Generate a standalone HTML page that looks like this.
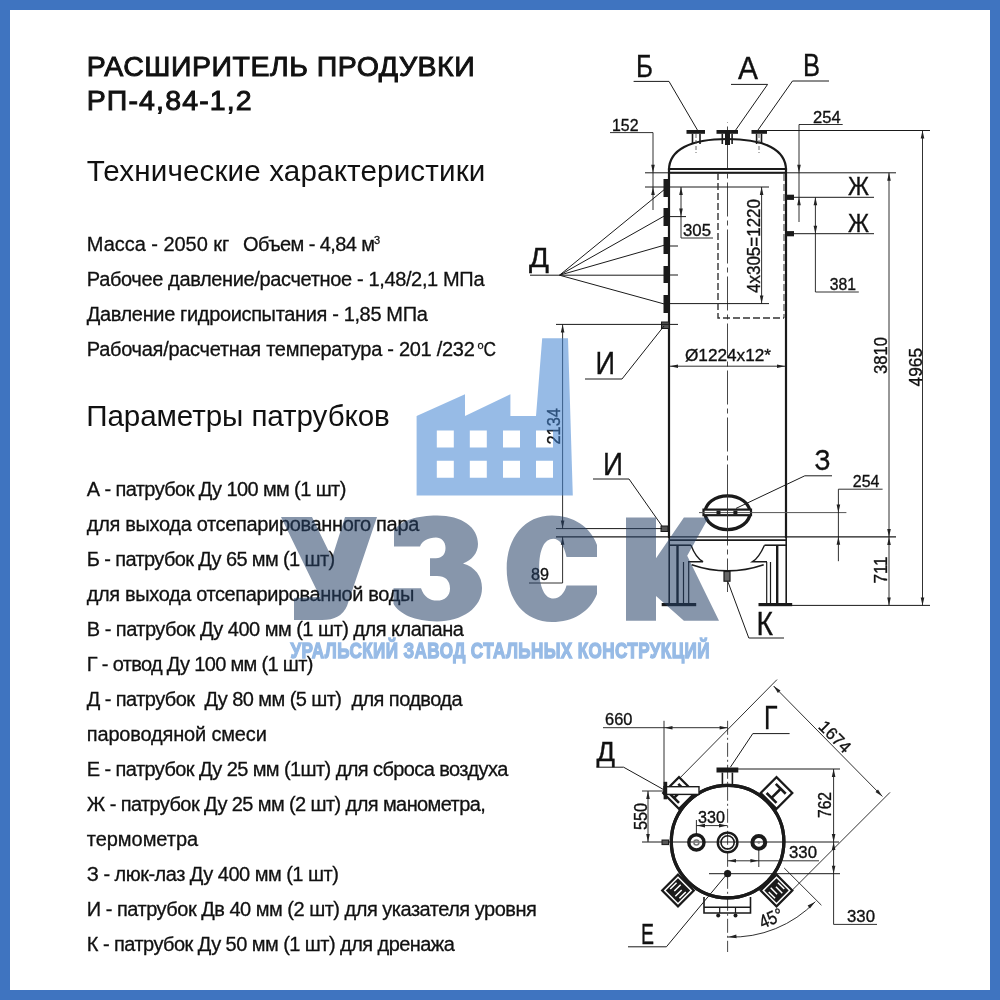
<!DOCTYPE html>
<html><head><meta charset="utf-8">
<style>
html,body{margin:0;padding:0;background:#fff;}
#page{position:relative;width:1000px;height:1000px;overflow:hidden;background:#fff;font-family:"Liberation Sans",sans-serif;}
#frame{position:absolute;left:0;top:0;width:1000px;height:1000px;box-sizing:border-box;border:10px solid #3F74C0;}
svg{position:absolute;left:0;top:0;will-change:transform;}

</style></head><body>
<div id="page">
<svg id="txt" width="1000" height="1000" viewBox="0 0 1000 1000" font-family="Liberation Sans">
<g fill="#111">
<text x="86.7" y="76" font-size="28.5" stroke="#111" stroke-width="0.95" textLength="388" lengthAdjust="spacing">РАСШИРИТЕЛЬ ПРОДУВКИ</text>
<text x="86.7" y="110.4" font-size="28.5" stroke="#111" stroke-width="0.95" textLength="165" lengthAdjust="spacing">РП-4,84-1,2</text>
<text x="86.8" y="180.6" font-size="29.6" textLength="398.5" lengthAdjust="spacing">Технические характеристики</text>
<g font-size="20" stroke="#111" stroke-width="0.3">
<text x="86.8" y="251" textLength="142.5" lengthAdjust="spacing">Масса - 2050 кг</text>
<text x="243" y="251" textLength="132.0" lengthAdjust="spacing">Объем - 4,84 м</text><text x="374" y="243.5" font-size="11">3</text>
<text x="86.8" y="286" textLength="397.7" lengthAdjust="spacing">Рабочее давление/расчетное - 1,48/2,1 МПа</text>
<text x="86.8" y="321" textLength="341.0" lengthAdjust="spacing">Давление гидроиспытания - 1,85 МПа</text>
<text x="86.8" y="356" textLength="388.0" lengthAdjust="spacing">Рабочая/расчетная температура - 201 /232</text><text x="477.5" y="348.5" font-size="11">o</text><text x="483.5" y="356" textLength="12.5" lengthAdjust="spacingAndGlyphs">C</text>
</g>
<text x="86.3" y="426" font-size="29.6" textLength="303.5" lengthAdjust="spacing">Параметры патрубков</text>
<g font-size="20" stroke="#111" stroke-width="0.3">
<text x="86.8" y="495.5" textLength="259.5" lengthAdjust="spacing">А - патрубок Ду 100 мм (1 шт)</text>
<text x="86.8" y="530.5" textLength="332.5" lengthAdjust="spacing">для выхода отсепарированного пара</text>
<text x="86.8" y="565.5" textLength="248.3" lengthAdjust="spacing">Б - патрубок Ду 65 мм (1 шт)</text>
<text x="86.8" y="600.5" textLength="327.5" lengthAdjust="spacing">для выхода отсепарированной воды</text>
<text x="86.8" y="635.5" textLength="377.0" lengthAdjust="spacing">В - патрубок Ду 400 мм (1 шт) для клапана</text>
<text x="86.8" y="670.5" textLength="226.5" lengthAdjust="spacing">Г - отвод Ду 100 мм (1 шт)</text>
<text x="86.8" y="705.5" textLength="375.7" lengthAdjust="spacing" xml:space="preserve">Д - патрубок  Ду 80 мм (5 шт)  для подвода</text>
<text x="86.8" y="740.5" textLength="180.0" lengthAdjust="spacing">пароводяной смеси</text>
<text x="86.8" y="775.5" textLength="421.5" lengthAdjust="spacing">Е - патрубок Ду 25 мм (1шт) для сброса воздуха</text>
<text x="86.8" y="810.5" textLength="399.0" lengthAdjust="spacing">Ж - патрубок Ду 25 мм (2 шт) для манометра,</text>
<text x="86.8" y="845.5" textLength="111.3" lengthAdjust="spacing">термометра</text>
<text x="86.8" y="880.5" textLength="252.0" lengthAdjust="spacing">З - люк-лаз Ду 400 мм (1 шт)</text>
<text x="86.8" y="915.5" textLength="450.0" lengthAdjust="spacing">И - патрубок Дв 40 мм (2 шт) для указателя уровня</text>
<text x="86.8" y="950.5" textLength="368.0" lengthAdjust="spacing">К - патрубок Ду 50 мм (1 шт) для дренажа</text>
</g>
</g>
</svg>
<svg id="drw" width="1000" height="1000" viewBox="0 0 1000 1000" font-family="Liberation Sans">
<line x1="727.5" y1="122" x2="727.5" y2="592" stroke="#333" stroke-width="0.9" stroke-dasharray="34,4,5,4" stroke-dashoffset="33.5"/>
<path d="M669,170 C669,150 690,139 727.5,139 C765,139 786,150 786,170" stroke="#1a1a1a" stroke-width="2.2" fill="none"/>
<line x1="669" y1="169" x2="786" y2="169" stroke="#1a1a1a" stroke-width="2.2"/>
<line x1="645" y1="172.8" x2="896" y2="172.8" stroke="#1a1a1a" stroke-width="1.0"/>
<line x1="669" y1="172.8" x2="786" y2="172.8" stroke="#1a1a1a" stroke-width="2.0"/>
<line x1="669" y1="168" x2="669" y2="538" stroke="#1a1a1a" stroke-width="2.2"/>
<line x1="786" y1="168" x2="786" y2="538" stroke="#1a1a1a" stroke-width="2.2"/>
<rect x="686.5" y="130" width="18.5" height="3.8" fill="#1a1a1a"/>
<line x1="692.5" y1="133.7" x2="692.5" y2="144" stroke="#1a1a1a" stroke-width="1.6"/>
<line x1="700" y1="133.7" x2="700" y2="144" stroke="#1a1a1a" stroke-width="1.6"/>
<rect x="716.5" y="130" width="21.5" height="3.8" fill="#1a1a1a"/>
<line x1="722.3" y1="133.7" x2="722.3" y2="144" stroke="#1a1a1a" stroke-width="1.6"/>
<line x1="732.1" y1="133.7" x2="732.1" y2="144" stroke="#1a1a1a" stroke-width="1.6"/>
<rect x="751.5" y="130" width="15.5" height="3.8" fill="#1a1a1a"/>
<line x1="756.6" y1="133.7" x2="756.6" y2="144" stroke="#1a1a1a" stroke-width="1.6"/>
<line x1="761.5" y1="133.7" x2="761.5" y2="144" stroke="#1a1a1a" stroke-width="1.6"/>
<rect x="725" y="133" width="5" height="12" fill="#1a1a1a"/>
<line x1="696" y1="134" x2="696" y2="153" stroke="#444" stroke-width="0.8" stroke-dasharray="4,2"/>
<line x1="759" y1="134" x2="759" y2="153" stroke="#444" stroke-width="0.8" stroke-dasharray="4,2"/>
<line x1="767" y1="130.5" x2="930" y2="130.5" stroke="#1a1a1a" stroke-width="1.0"/>
<text x="636" y="77" font-size="32" font-family="Liberation Sans" font-weight="normal" fill="#111" text-anchor="start" textLength="17" lengthAdjust="spacingAndGlyphs" stroke="#111" stroke-width="0.35">Б</text>
<text x="738" y="79" font-size="32" font-family="Liberation Sans" font-weight="normal" fill="#111" text-anchor="start" textLength="20" lengthAdjust="spacingAndGlyphs" stroke="#111" stroke-width="0.35">А</text>
<text x="803" y="76" font-size="32" font-family="Liberation Sans" font-weight="normal" fill="#111" text-anchor="start" textLength="17" lengthAdjust="spacingAndGlyphs" stroke="#111" stroke-width="0.35">В</text>
<path d="M633.6,81.4 L669,81.4 L698,131" stroke="#1a1a1a" stroke-width="1.0" fill="none"/>
<path d="M731,84.4 L767.6,84.4 L735,131" stroke="#1a1a1a" stroke-width="1.0" fill="none"/>
<path d="M829,81 L792.5,81 L758,130" stroke="#1a1a1a" stroke-width="1.0" fill="none"/>
<text x="612" y="130.5" font-size="17" font-family="Liberation Sans" font-weight="normal" fill="#111" text-anchor="start" textLength="26.5" lengthAdjust="spacingAndGlyphs" stroke="#111" stroke-width="0.35">152</text>
<path d="M610,132.6 L653,132.6 L653,210" stroke="#1a1a1a" stroke-width="0.9" fill="none"/>
<polygon points="653.0,172.8 651.2,164.8 654.8,164.8" fill="#222"/>
<polygon points="653.0,187.0 654.8,195.0 651.2,195.0" fill="#222"/>
<line x1="645" y1="187" x2="769" y2="187" stroke="#1a1a1a" stroke-width="1.0"/>
<rect x="663.5" y="179" width="5.5" height="18" fill="#1a1a1a"/>
<rect x="663.5" y="208" width="5.5" height="18" fill="#1a1a1a"/>
<rect x="663.5" y="237" width="5.5" height="17" fill="#1a1a1a"/>
<rect x="663.5" y="266" width="5.5" height="17" fill="#1a1a1a"/>
<rect x="663.5" y="295" width="5.5" height="18" fill="#1a1a1a"/>
<rect x="661.5" y="322" width="7.5" height="6.5" fill="#555" stroke="#1a1a1a" stroke-width="1"/>
<line x1="669" y1="216.6" x2="686" y2="216.6" stroke="#1a1a1a" stroke-width="1.0"/>
<line x1="669" y1="246" x2="678" y2="246" stroke="#1a1a1a" stroke-width="1.0"/>
<line x1="669" y1="275" x2="678" y2="275" stroke="#1a1a1a" stroke-width="1.0"/>
<line x1="669" y1="303.6" x2="769" y2="303.6" stroke="#1a1a1a" stroke-width="1.0"/>
<line x1="556" y1="324.4" x2="678" y2="324.4" stroke="#1a1a1a" stroke-width="1.0"/>
<line x1="530" y1="275.2" x2="559.5" y2="275.2" stroke="#1a1a1a" stroke-width="1.0"/>
<line x1="559.5" y1="275.2" x2="665" y2="189" stroke="#1a1a1a" stroke-width="1.0"/>
<line x1="559.5" y1="275.2" x2="664.3" y2="216" stroke="#1a1a1a" stroke-width="1.0"/>
<line x1="559.5" y1="275.2" x2="665" y2="245" stroke="#1a1a1a" stroke-width="1.0"/>
<line x1="559.5" y1="275.2" x2="665" y2="275.2" stroke="#1a1a1a" stroke-width="1.0"/>
<line x1="559.5" y1="275.2" x2="664.3" y2="304" stroke="#1a1a1a" stroke-width="1.0"/>
<text x="529" y="266.8" font-size="27.5" font-family="Liberation Sans" font-weight="normal" fill="#111" text-anchor="start" textLength="20" lengthAdjust="spacingAndGlyphs" stroke="#111" stroke-width="0.35">Д</text>
<path d="M681,187 L681,238 L713,238" stroke="#1a1a1a" stroke-width="0.9" fill="none"/>
<polygon points="681.0,187.0 682.8,195.0 679.2,195.0" fill="#222"/>
<polygon points="681.0,216.6 679.2,208.6 682.8,208.6" fill="#222"/>
<text x="683" y="236" font-size="17" font-family="Liberation Sans" font-weight="normal" fill="#111" text-anchor="start" textLength="28" lengthAdjust="spacingAndGlyphs" stroke="#111" stroke-width="0.35">305</text>
<text x="760" y="293" font-size="17.5" font-family="Liberation Sans" font-weight="normal" fill="#111" text-anchor="start" textLength="94" lengthAdjust="spacingAndGlyphs" transform="rotate(-90 760 293)" stroke="#111" stroke-width="0.35">4x305=1220</text>
<line x1="761.6" y1="187" x2="761.6" y2="303.6" stroke="#1a1a1a" stroke-width="0.9"/>
<polygon points="761.6,187.0 763.4,195.0 759.8,195.0" fill="#222"/>
<polygon points="761.6,303.6 759.8,295.6 763.4,295.6" fill="#222"/>
<path d="M718,173 L718,318 L784,318" stroke="#333" stroke-width="1.4" fill="none" stroke-dasharray="7,3"/>
<line x1="784" y1="174" x2="784" y2="318" stroke="#333" stroke-width="1.0" stroke-dasharray="7,3"/>
<rect x="786" y="194.70000000000002" width="8" height="5.2" fill="#1a1a1a"/>
<line x1="794" y1="197.3" x2="874" y2="197.3" stroke="#1a1a1a" stroke-width="1.0"/>
<rect x="786" y="231.1" width="8" height="5.2" fill="#1a1a1a"/>
<line x1="794" y1="233.7" x2="874" y2="233.7" stroke="#1a1a1a" stroke-width="1.0"/>
<text x="848" y="195" font-size="26" font-family="Liberation Sans" font-weight="normal" fill="#111" text-anchor="start" textLength="21" lengthAdjust="spacingAndGlyphs" stroke="#111" stroke-width="0.35">Ж</text>
<text x="848" y="231.6" font-size="26" font-family="Liberation Sans" font-weight="normal" fill="#111" text-anchor="start" textLength="21" lengthAdjust="spacingAndGlyphs" stroke="#111" stroke-width="0.35">Ж</text>
<text x="813" y="122.7" font-size="17" font-family="Liberation Sans" font-weight="normal" fill="#111" text-anchor="start" textLength="27.6" lengthAdjust="spacingAndGlyphs" stroke="#111" stroke-width="0.35">254</text>
<path d="M842.7,124.5 L799,124.5 L799,222" stroke="#1a1a1a" stroke-width="0.9" fill="none"/>
<polygon points="799.0,172.8 797.2,164.8 800.8,164.8" fill="#222"/>
<polygon points="799.0,197.3 800.8,205.3 797.2,205.3" fill="#222"/>
<path d="M815.4,197.3 L815.4,292 L858.8,292" stroke="#1a1a1a" stroke-width="0.9" fill="none"/>
<polygon points="815.4,197.3 817.2,205.3 813.6,205.3" fill="#222"/>
<polygon points="815.4,233.7 813.6,225.7 817.2,225.7" fill="#222"/>
<text x="829.7" y="290" font-size="17" font-family="Liberation Sans" font-weight="normal" fill="#111" text-anchor="start" textLength="26.3" lengthAdjust="spacingAndGlyphs" stroke="#111" stroke-width="0.35">381</text>
<line x1="922.5" y1="130.5" x2="922.5" y2="605.4" stroke="#1a1a1a" stroke-width="0.9"/>
<polygon points="922.5,130.5 924.3,138.5 920.7,138.5" fill="#222"/>
<polygon points="922.5,605.4 920.7,597.4 924.3,597.4" fill="#222"/>
<text x="921.6" y="386.4" font-size="17.5" font-family="Liberation Sans" font-weight="normal" fill="#111" text-anchor="start" textLength="38.4" lengthAdjust="spacingAndGlyphs" transform="rotate(-90 921.6 386.4)" stroke="#111" stroke-width="0.35">4965</text>
<line x1="889" y1="172.8" x2="889" y2="537" stroke="#1a1a1a" stroke-width="0.9"/>
<polygon points="889.0,172.8 890.8,180.8 887.2,180.8" fill="#222"/>
<polygon points="889.0,537.0 887.2,529.0 890.8,529.0" fill="#222"/>
<text x="887" y="374" font-size="17.5" font-family="Liberation Sans" font-weight="normal" fill="#111" text-anchor="start" textLength="37" lengthAdjust="spacingAndGlyphs" transform="rotate(-90 887 374)" stroke="#111" stroke-width="0.35">3810</text>
<line x1="889" y1="537" x2="889" y2="605.4" stroke="#1a1a1a" stroke-width="0.9"/>
<polygon points="889.0,537.0 890.8,545.0 887.2,545.0" fill="#222"/>
<polygon points="889.0,605.4 887.2,597.4 890.8,597.4" fill="#222"/>
<text x="887" y="583.6" font-size="17.5" font-family="Liberation Sans" font-weight="normal" fill="#111" text-anchor="start" textLength="27.2" lengthAdjust="spacingAndGlyphs" transform="rotate(-90 887 583.6)" stroke="#111" stroke-width="0.35">711</text>
<line x1="556" y1="536.8" x2="896" y2="536.8" stroke="#1a1a1a" stroke-width="1.2"/>
<line x1="669" y1="540.2" x2="787" y2="540.2" stroke="#1a1a1a" stroke-width="1.8"/>
<line x1="792" y1="605.4" x2="930" y2="605.4" stroke="#1a1a1a" stroke-width="1.0"/>
<text x="685" y="361.4" font-size="17" font-family="Liberation Sans" font-weight="normal" fill="#111" text-anchor="start" textLength="86" lengthAdjust="spacingAndGlyphs" stroke="#111" stroke-width="0.35">&#216;1224x12*</text>
<line x1="669" y1="366.2" x2="786" y2="366.2" stroke="#1a1a1a" stroke-width="0.9"/>
<polygon points="670.0,366.2 678.0,364.4 678.0,368.0" fill="#222"/>
<polygon points="785.0,366.2 777.0,368.0 777.0,364.4" fill="#222"/>
<text x="595.5" y="374" font-size="31" font-family="Liberation Sans" font-weight="normal" fill="#111" text-anchor="start" textLength="19.5" lengthAdjust="spacingAndGlyphs" stroke="#111" stroke-width="0.35">И</text>
<path d="M585,379 L622,379 L664,326" stroke="#1a1a1a" stroke-width="1.0" fill="none"/>
<line x1="562.6" y1="324.4" x2="562.6" y2="528.6" stroke="#1a1a1a" stroke-width="0.9"/>
<polygon points="562.6,324.4 564.4,332.4 560.8,332.4" fill="#222"/>
<polygon points="562.6,528.6 560.8,520.6 564.4,520.6" fill="#222"/>
<text x="560.5" y="444.6" font-size="17.5" font-family="Liberation Sans" font-weight="normal" fill="#111" text-anchor="start" textLength="36.6" lengthAdjust="spacingAndGlyphs" transform="rotate(-90 560.5 444.6)" stroke="#111" stroke-width="0.35">2134</text>
<text x="603" y="475" font-size="31" font-family="Liberation Sans" font-weight="normal" fill="#111" text-anchor="start" textLength="20" lengthAdjust="spacingAndGlyphs" stroke="#111" stroke-width="0.35">И</text>
<path d="M593,479 L629,479 L662,526" stroke="#1a1a1a" stroke-width="1.0" fill="none"/>
<rect x="661" y="526" width="7" height="5.5" fill="#555" stroke="#1a1a1a" stroke-width="1"/>
<line x1="556" y1="528.6" x2="662" y2="528.6" stroke="#1a1a1a" stroke-width="1.0"/>
<path d="M562.6,536.8 L562.6,583 L529,583" stroke="#1a1a1a" stroke-width="0.9" fill="none"/>
<polygon points="562.6,536.8 564.4,544.8 560.8,544.8" fill="#222"/>
<text x="531" y="580" font-size="17" font-family="Liberation Sans" font-weight="normal" fill="#111" text-anchor="start" textLength="18" lengthAdjust="spacingAndGlyphs" stroke="#111" stroke-width="0.35">89</text>
<ellipse cx="727.5" cy="512.7" rx="22.4" ry="16.9" fill="#fff" stroke="#1a1a1a" stroke-width="3.3"/>
<rect x="703.5" y="509.6" width="47.5" height="5.6" fill="#fff" stroke="#1a1a1a" stroke-width="2.2"/>
<line x1="699" y1="512.6" x2="846.4" y2="512.6" stroke="#555" stroke-width="1.0"/>
<rect x="716.5" y="510.6" width="4" height="3.8" fill="#1a1a1a"/>
<rect x="733.4" y="510.6" width="4" height="3.8" fill="#1a1a1a"/>
<line x1="727.5" y1="495" x2="727.5" y2="531" stroke="#333" stroke-width="0.9"/>
<text x="814.4" y="470" font-size="30" font-family="Liberation Sans" font-weight="normal" fill="#111" text-anchor="start" textLength="16" lengthAdjust="spacingAndGlyphs" stroke="#111" stroke-width="0.35">З</text>
<path d="M832,475.8 L804.8,475.8 L736,508.4" stroke="#1a1a1a" stroke-width="1.0" fill="none"/>
<text x="852.8" y="487" font-size="17" font-family="Liberation Sans" font-weight="normal" fill="#111" text-anchor="start" textLength="26.6" lengthAdjust="spacingAndGlyphs" stroke="#111" stroke-width="0.35">254</text>
<path d="M882.6,489.2 L838.4,489.2 L838.4,561.2" stroke="#1a1a1a" stroke-width="0.9" fill="none"/>
<polygon points="838.4,512.6 836.6,504.6 840.2,504.6" fill="#222"/>
<polygon points="838.4,536.8 840.2,544.8 836.6,544.8" fill="#222"/>
<line x1="669.2" y1="537" x2="669.2" y2="604" stroke="#1a1a1a" stroke-width="1.6"/>
<line x1="677.5" y1="545" x2="677.5" y2="604" stroke="#1a1a1a" stroke-width="2.4"/>
<line x1="683.5" y1="562" x2="683.5" y2="604" stroke="#1a1a1a" stroke-width="1.2"/>
<line x1="688.7" y1="562" x2="688.7" y2="604" stroke="#1a1a1a" stroke-width="1.2"/>
<rect x="661.7" y="603" width="34.5" height="3.2" fill="#1a1a1a"/>
<line x1="786.2" y1="537" x2="786.2" y2="604" stroke="#1a1a1a" stroke-width="1.6"/>
<line x1="777.2" y1="545" x2="777.2" y2="604" stroke="#1a1a1a" stroke-width="2.4"/>
<line x1="770.5" y1="562" x2="770.5" y2="604" stroke="#1a1a1a" stroke-width="1.2"/>
<line x1="766.7" y1="562" x2="766.7" y2="604" stroke="#1a1a1a" stroke-width="1.2"/>
<rect x="758.5" y="603" width="33.700000000000045" height="3.2" fill="#1a1a1a"/>
<line x1="669" y1="545.2" x2="691" y2="545.2" stroke="#1a1a1a" stroke-width="1.6"/>
<line x1="764.5" y1="545.2" x2="786" y2="545.2" stroke="#1a1a1a" stroke-width="1.6"/>
<path d="M691,545.2 C694,553 698,559 703,561.7 L688,561.7" stroke="#1a1a1a" stroke-width="1.4" fill="none"/>
<path d="M764.5,545.2 C761,553 757,559 752.5,561.7 L767,561.7" stroke="#1a1a1a" stroke-width="1.4" fill="none"/>
<path d="M691.7,564.7 Q727.5,577 763.7,564.7" stroke="#1a1a1a" stroke-width="1.6" fill="none"/>
<rect x="724" y="571.5" width="6" height="9.7" fill="#666" stroke="#1a1a1a" stroke-width="1.2"/>
<path d="M728,582 L748.8,638 L784,638" stroke="#1a1a1a" stroke-width="1.0" fill="none"/>
<text x="756.5" y="634.8" font-size="32.5" font-family="Liberation Sans" font-weight="normal" fill="#111" text-anchor="start" textLength="16.5" lengthAdjust="spacingAndGlyphs" stroke="#111" stroke-width="0.35">К</text>
<line x1="727.6" y1="720.8" x2="727.6" y2="952" stroke="#333" stroke-width="0.9" stroke-dasharray="14,3,2,3"/>
<line x1="642" y1="842" x2="839" y2="842" stroke="#1a1a1a" stroke-width="1.0"/>
<line x1="709" y1="873.7" x2="840" y2="873.7" stroke="#1a1a1a" stroke-width="1.0"/>
<circle cx="727.6" cy="841.6" r="56.3" fill="none" stroke="#1a1a1a" stroke-width="3.2"/>
<circle cx="727.6" cy="842.4" r="9.8" fill="none" stroke="#1a1a1a" stroke-width="2.4"/>
<circle cx="727.6" cy="842.4" r="6.6" fill="none" stroke="#1a1a1a" stroke-width="1.6"/>
<circle cx="696.4" cy="842.4" r="7.6" fill="none" stroke="#1a1a1a" stroke-width="3.4"/>
<circle cx="696.4" cy="842.4" r="2.5" fill="none" stroke="#777" stroke-width="1.5"/>
<circle cx="758.8" cy="842.4" r="6.4" fill="none" stroke="#1a1a1a" stroke-width="4"/>
<circle cx="758.8" cy="842.4" r="1.3" fill="#777"/>
<circle cx="727.6" cy="873.7" r="3.6" fill="#1a1a1a"/>
<rect x="716.5" y="767.5" width="21.8" height="5" fill="#1a1a1a"/>
<line x1="722.4" y1="772.5" x2="722.4" y2="785" stroke="#1a1a1a" stroke-width="1.6"/>
<line x1="732.4" y1="772.5" x2="732.4" y2="785" stroke="#1a1a1a" stroke-width="1.6"/>
<text x="764" y="729" font-size="33" font-family="Liberation Sans" font-weight="normal" fill="#111" text-anchor="start" textLength="13.5" lengthAdjust="spacingAndGlyphs" stroke="#111" stroke-width="0.35">Г</text>
<path d="M789.6,733.6 L752.8,733.6 L730.4,767.2" stroke="#1a1a1a" stroke-width="1.0" fill="none"/>
<line x1="738" y1="769" x2="840" y2="769" stroke="#1a1a1a" stroke-width="1.0"/>
<line x1="833.6" y1="769" x2="833.6" y2="924.4" stroke="#1a1a1a" stroke-width="0.9"/>
<polygon points="833.6,769.0 835.4,777.0 831.8,777.0" fill="#222"/>
<polygon points="833.6,842.0 831.8,834.0 835.4,834.0" fill="#222"/>
<polygon points="833.6,842.0 835.4,850.0 831.8,850.0" fill="#222"/>
<polygon points="833.6,873.7 831.8,865.7 835.4,865.7" fill="#222"/>
<line x1="833.6" y1="924.4" x2="877" y2="924.4" stroke="#1a1a1a" stroke-width="0.9"/>
<text x="831" y="818" font-size="17.5" font-family="Liberation Sans" font-weight="normal" fill="#111" text-anchor="start" textLength="26" lengthAdjust="spacingAndGlyphs" transform="rotate(-90 831 818)" stroke="#111" stroke-width="0.35">762</text>
<text x="847" y="921.6" font-size="17" font-family="Liberation Sans" font-weight="normal" fill="#111" text-anchor="start" textLength="28" lengthAdjust="spacingAndGlyphs" stroke="#111" stroke-width="0.35">330</text>
<line x1="603" y1="727.7" x2="727.6" y2="727.7" stroke="#1a1a1a" stroke-width="0.9"/>
<polygon points="664.5,727.7 672.5,725.9 672.5,729.5" fill="#222"/>
<polygon points="727.6,727.7 719.6,729.5 719.6,725.9" fill="#222"/>
<line x1="664" y1="720.8" x2="664" y2="790" stroke="#1a1a1a" stroke-width="0.9"/>
<text x="605" y="725.3" font-size="17" font-family="Liberation Sans" font-weight="normal" fill="#111" text-anchor="start" textLength="27.4" lengthAdjust="spacingAndGlyphs" stroke="#111" stroke-width="0.35">660</text>
<text x="596.4" y="760.5" font-size="27" font-family="Liberation Sans" font-weight="normal" fill="#111" text-anchor="start" textLength="18.5" lengthAdjust="spacingAndGlyphs" stroke="#111" stroke-width="0.35">Д</text>
<path d="M596.4,767.2 L623.6,767.2 L663.6,789.6" stroke="#1a1a1a" stroke-width="1.0" fill="none"/>
<line x1="642" y1="791" x2="690" y2="791" stroke="#1a1a1a" stroke-width="0.9"/>
<line x1="648" y1="791" x2="648" y2="842" stroke="#1a1a1a" stroke-width="0.9"/>
<polygon points="648.0,791.0 649.8,799.0 646.2,799.0" fill="#222"/>
<polygon points="648.0,842.0 646.2,834.0 649.8,834.0" fill="#222"/>
<text x="647.2" y="830" font-size="17.5" font-family="Liberation Sans" font-weight="normal" fill="#111" text-anchor="start" textLength="27.2" lengthAdjust="spacingAndGlyphs" transform="rotate(-90 647.2 830)" stroke="#111" stroke-width="0.35">550</text>
<line x1="671.6" y1="786.4" x2="777" y2="679.6" stroke="#1a1a1a" stroke-width="0.9"/>
<line x1="890" y1="792.4" x2="785" y2="897.4" stroke="#1a1a1a" stroke-width="0.9"/>
<line x1="773.6" y1="686" x2="882.4" y2="796.4" stroke="#1a1a1a" stroke-width="0.9"/>
<polygon points="773.6,686.0 780.5,690.4 777.9,693.0" fill="#222"/>
<polygon points="882.4,796.4 875.5,792.0 878.0,789.5" fill="#222"/>
<text x="817.5" y="727.5" font-size="17" font-family="Liberation Sans" font-weight="normal" fill="#111" text-anchor="start" textLength="37.5" lengthAdjust="spacingAndGlyphs" transform="rotate(45 817.5 727.5)" stroke="#111" stroke-width="0.35">1674</text>
<g transform="translate(776.5 793) rotate(45)">
<rect x="-11.2" y="-11.2" width="22.4" height="22.4" fill="#fff" stroke="#1a1a1a" stroke-width="2.2"/>
<path d="M-7,-6 L7,-6 M0,-6 L0,7 M-7,7 L7,7" stroke="#1a1a1a" stroke-width="2.6" fill="none"/>
</g>
<g transform="translate(679 793) rotate(45)">
<rect x="-11.2" y="-11.2" width="22.4" height="22.4" fill="#fff" stroke="#1a1a1a" stroke-width="2.2"/>
<path d="M-7,-6 L7,-6 M0,-6 L0,7 M-7,7 L7,7" stroke="#1a1a1a" stroke-width="2.6" fill="none"/>
</g>
<g transform="translate(678 890.5) rotate(45)">
<rect x="-11.2" y="-11.2" width="22.4" height="22.4" fill="#fff" stroke="#1a1a1a" stroke-width="2.2"/>
<rect x="-8.6" y="-8.6" width="17.2" height="17.2" fill="#1a1a1a"/>
<path d="M-6.5,-4.5 L-6.5,4.5 M-2.2,-6 L-2.2,3 M2.2,-3 L2.2,6 M6.5,-4.5 L6.5,4.5" stroke="#fff" stroke-width="1.5" fill="none"/>
</g>
<g transform="translate(776.5 890.5) rotate(45)">
<rect x="-11.2" y="-11.2" width="22.4" height="22.4" fill="#fff" stroke="#1a1a1a" stroke-width="2.2"/>
<rect x="-8.6" y="-8.6" width="17.2" height="17.2" fill="#1a1a1a"/>
<path d="M-6.5,-4.5 L-6.5,4.5 M-2.2,-6 L-2.2,3 M2.2,-3 L2.2,6 M6.5,-4.5 L6.5,4.5" stroke="#fff" stroke-width="1.5" fill="none" transform="rotate(90)"/>
</g>
<circle cx="727.6" cy="841.6" r="56.3" fill="none" stroke="#1a1a1a" stroke-width="3.2"/>
<rect x="664" y="786.7" width="35" height="7.7" fill="#fff" stroke="#1a1a1a" stroke-width="1.4"/>
<rect x="663.6" y="781.8" width="3.6" height="17.5" fill="#1a1a1a"/>
<rect x="662" y="840" width="6.5" height="4.6" fill="#555" stroke="#1a1a1a" stroke-width="1"/>
<path d="M704,897 L704,913 L750.5,913 L750.5,897" stroke="#1a1a1a" stroke-width="1.6" fill="none"/>
<line x1="704" y1="907.2" x2="750.5" y2="907.2" stroke="#1a1a1a" stroke-width="1.6"/>
<line x1="719.7" y1="907" x2="719.7" y2="913" stroke="#1a1a1a" stroke-width="1.2"/>
<line x1="735.5" y1="907" x2="735.5" y2="913" stroke="#1a1a1a" stroke-width="1.2"/>
<circle cx="718.2" cy="915.5" r="2" fill="#1a1a1a"/>
<circle cx="735.5" cy="915.5" r="2" fill="#1a1a1a"/>
<text x="641" y="943.6" font-size="30" font-family="Liberation Sans" font-weight="normal" fill="#111" text-anchor="start" textLength="13" lengthAdjust="spacingAndGlyphs" stroke="#111" stroke-width="0.35">Е</text>
<path d="M628,946.8 L666.4,946.8 L727,874" stroke="#1a1a1a" stroke-width="1.0" fill="none"/>
<line x1="696.4" y1="820" x2="696.4" y2="836" stroke="#1a1a1a" stroke-width="0.9"/>
<line x1="696.4" y1="825.6" x2="727.6" y2="825.6" stroke="#1a1a1a" stroke-width="0.9"/>
<polygon points="697.0,825.6 705.0,823.8 705.0,827.4" fill="#222"/>
<polygon points="727.0,825.6 719.0,827.4 719.0,823.8" fill="#222"/>
<text x="698" y="823.2" font-size="17" font-family="Liberation Sans" font-weight="normal" fill="#111" text-anchor="start" textLength="27" lengthAdjust="spacingAndGlyphs" stroke="#111" stroke-width="0.35">330</text>
<line x1="758.8" y1="850" x2="758.8" y2="867" stroke="#1a1a1a" stroke-width="0.9"/>
<line x1="727.6" y1="860.8" x2="819" y2="860.8" stroke="#1a1a1a" stroke-width="0.9"/>
<polygon points="728.0,860.8 736.0,859.0 736.0,862.6" fill="#222"/>
<polygon points="758.4,860.8 750.4,862.6 750.4,859.0" fill="#222"/>
<text x="789" y="857.6" font-size="17" font-family="Liberation Sans" font-weight="normal" fill="#111" text-anchor="start" textLength="28" lengthAdjust="spacingAndGlyphs" stroke="#111" stroke-width="0.35">330</text>
<line x1="784.2" y1="868" x2="821.4" y2="905.2" stroke="#1a1a1a" stroke-width="0.9"/>
<path d="M728,937 A115,115 0 0 0 815.4,901.6" stroke="#1a1a1a" stroke-width="0.9" fill="none"/>
<polygon points="728.5,937.0 736.3,934.6 736.6,938.2" fill="#222"/>
<polygon points="815.0,902.0 809.9,908.4 807.6,905.6" fill="#222"/>
<text x="762.5" y="929" font-size="19" font-family="Liberation Sans" font-weight="normal" fill="#111" text-anchor="start" textLength="24" lengthAdjust="spacingAndGlyphs" transform="rotate(-23 762.5 929)" stroke="#111" stroke-width="0.35">45°</text>
</svg>
<svg id="wm" width="1000" height="1000" viewBox="0 0 1000 1000">
<path fill="rgb(66,131,209)" fill-opacity="0.55" fill-rule="evenodd" d="M416.6,495.4 L416.6,416 L465,394.2 L465,416 L510.4,394.2 L510.4,416 L536,416 L542.2,338.2 L568,338.2 L572.8,495.4 Z
M436.8,430.4 h17 v17 h-17 Z M469.8,430.4 h17 v17 h-17 Z M503,430.4 h17 v17 h-17 Z M536,430.4 h17 v17 h-17 Z
M436.8,460.8 h17 v17 h-17 Z M469.8,460.8 h17 v17 h-17 Z M503,460.8 h17 v17 h-17 Z M536,460.8 h17 v17 h-17 Z"/>
<g fill="rgb(37,64,102)" fill-opacity="0.55">
<path d="M281,517 L312,517 L332,558 L345,517 L377,517 L347,606 Q341,620 322,620 L294,620 L294,598 L320,597 Z"/>
<path d="M394,546.6 L394,531 C400,520 418,515.4 437,515.4 C462,515.4 478,527 478,544 C478,553 472,560 463,563.5 C475,567 482,576 482,588 C482,608 462,621.4 437,621.4 C415,621.4 399,614 393.5,603.8 L393.5,588.2 L421,588.2 C424,597 430,600.6 437,600.6 C445,600.6 450,596 450,588.5 C450,580 445,575.9 437,575.9 L430,575.9 L430,558.3 L436,558.3 C442,558.3 445.5,554 445.5,548 C445.5,541.5 441,537.5 436,537.5 C428,537.5 422,541 420,546.6 Z"/>
<path d="M597,557 L566.5,557 C564,545 559,538.8 553.5,538.8 C544,538.8 539.2,550 539.2,568.5 C539.2,588 545,598.6 553.5,598.6 C560,598.6 564.5,593 566.5,585.6 L597,585.6 L597,594 C590,612 573,622 552,622 C525,622 506.7,600 506.7,568.7 C506.7,537 525,515.4 552,515.4 C573,515.4 591,527 597,545 Z"/>
<path d="M626,517.4 L656,517.4 L656,558.3 L683.9,517.4 L708.6,517.4 L687.2,555.7 L719,620.7 L683.9,620.7 L656,596 L656,620.7 L626,620.7 Z"/>
</g>
<text x="0" y="0" transform="translate(290.5 658.3) scale(0.76 1)" font-family="Liberation Sans" font-weight="bold" font-size="22.5" fill="rgb(66,131,209)" stroke="rgb(66,131,209)" stroke-width="1.4" opacity="0.55" textLength="551.3" lengthAdjust="spacing">УРАЛЬСКИЙ ЗАВОД СТАЛЬНЫХ КОНСТРУКЦИЙ</text>
</svg>
<div id="frame"></div>
</div>
</body></html>
